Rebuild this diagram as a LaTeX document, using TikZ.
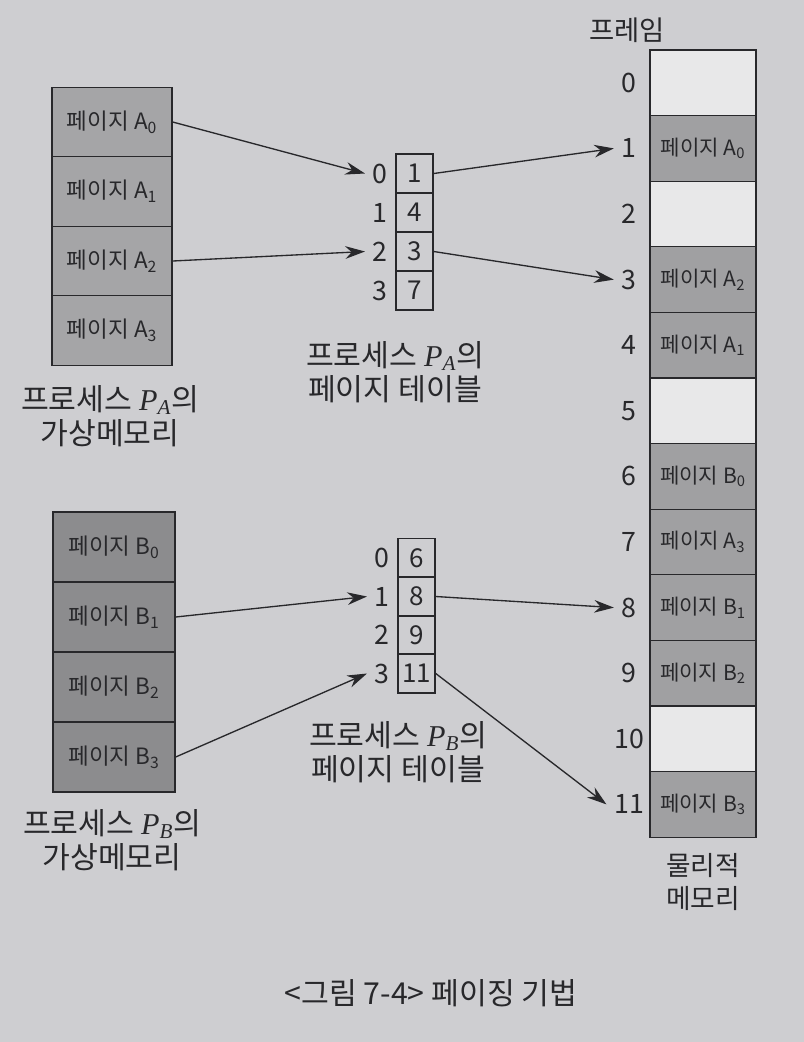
\documentclass[tikz,border=0pt]{standalone}
\usepackage{fontspec}
\setmainfont{Noto Sans CJK KR}
\newfontfamily\latinit{Liberation Serif}
\usetikzlibrary{arrows.meta}
\definecolor{paper}{RGB}{206,206,209}
\definecolor{emptycell}{RGB}{232,232,233}
\definecolor{pagegrayA}{RGB}{165,165,167}
\definecolor{pagegrayB}{RGB}{140,140,142}
\definecolor{framegray}{RGB}{160,160,162}
\definecolor{ink}{RGB}{40,40,43}
\tikzset{
every picture/.style={line width=0.95pt, >={Stealth[length=14pt,width=9pt]}},
%%%%%%%%%%  Node styles
vpage/.style={draw=ink, text=ink, minimum width=3cm, minimum height=1.74cm,
              inner sep=0, font=\fontsize{16}{18}\selectfont},
vpageA/.style={vpage, fill=pagegrayA},
vpageB/.style={vpage, fill=pagegrayB, minimum width=3.05cm,
               minimum height=1.75cm},
ptcell/.style={draw=ink, text=ink, minimum width=0.93cm,
               minimum height=0.97cm, inner sep=0,
               font=\fontsize{18.5}{20}\selectfont},
idxlabel/.style={text=ink, inner sep=5pt, font=\fontsize{19}{21}\selectfont},
pframe/.style={draw=ink, text=ink, minimum width=2.65cm,
               minimum height=1.64cm, inner sep=0,
               font=\fontsize{15}{17}\selectfont},
caption/.style={text=ink, align=center,
                font=\fontsize{21.5}{24}\selectfont},
%%%% connectors
mapto/.style={->, draw=ink}
}
\newcommand{\proc}[1]{{\latinit\itshape P\textsubscript{#1}}}

\begin{document}
\begin{tikzpicture}[x=0.025cm, y=-0.025cm]
\useasboundingbox[fill=paper] (0,0) rectangle (804,1042);
%%%%%%% virtual memory of P_A and P_B
\foreach \i in {0,...,3}
  \node[vpageA] (A\i) at (112, {122+69.5*\i}) {페이지 A\textsubscript{\i}};
\foreach \i in {0,...,3}
  \node[vpageB] (B\i) at (114, {547+70*\i}) {페이지 B\textsubscript{\i}};
\node[caption] (vmA) at (110, 416) {프로세스 \proc{A}의\\가상메모리};
\node[caption] (vmB) at (112, 840) {프로세스 \proc{B}의\\가상메모리};
%%%%%%% page tables
\foreach \i/\v in {0/1, 1/4, 2/3, 3/7} {
  \node[ptcell] (pa\i) at (414.5, {173.5+39*\i}) {\v};
  \node[idxlabel, anchor=east] (ia\i) at (pa\i.west) {\i};
}
\foreach \i/\v in {0/6, 1/8, 2/9, 3/11} {
  \node[ptcell] (pb\i) at (416.5, {558+38.5*\i}) {\v};
  \node[idxlabel, anchor=east] (ib\i) at (pb\i.west) {\i};
}
\node[caption] (ptA) at (395, 372) {프로세스 \proc{A}의\\페이지 테이블};
\node[caption] (ptB) at (398, 752) {프로세스 \proc{B}의\\페이지 테이블};
%%%%%%% physical memory
\foreach \f/\fil/\pg in {0/emptycell/{}, 1/framegray/{A\textsubscript{0}},
    2/emptycell/{}, 3/framegray/{A\textsubscript{2}},
    4/framegray/{A\textsubscript{1}}, 5/emptycell/{},
    6/framegray/{B\textsubscript{0}}, 7/framegray/{A\textsubscript{3}},
    8/framegray/{B\textsubscript{1}}, 9/framegray/{B\textsubscript{2}},
    10/emptycell/{}, 11/framegray/{B\textsubscript{3}}} {
  \node[pframe, fill=\fil] (F\f) at (703, {82.8+65.6*\f})
    {\ifx\pg\empty\else 페이지 \pg\fi};
  \node[idxlabel] (n\f) at (629, {82.8+65.6*\f}) {\f};
}
\node[caption, font=\fontsize{19.5}{22}\selectfont] (frm) at (627, 30) {프레임};
\node[caption, font=\fontsize{19}{23}\selectfont] (pm) at (703, 882) {물리적\\메모리};
%%%%%%% mappings
\draw[mapto] (A0.east) -- (ia0.west);
\draw[mapto] (A2.east) -- (ia2.west);
\draw[mapto] (pa0.east) -- (n1.west);
\draw[mapto] (pa2.east) -- (n3.west);
\draw[mapto] (B1.east) -- (ib1.west);
\draw[mapto] (B3.east) -- (ib3.west);
\draw[mapto] (pb1.east) -- (n8.west);
\draw[mapto] (pb3.east) -- (n11.west);
%%%%%%% figure caption
\node[caption] (cap) at (431, 993) {<그림 7-4> 페이징 기법};
\end{tikzpicture}
\end{document}
